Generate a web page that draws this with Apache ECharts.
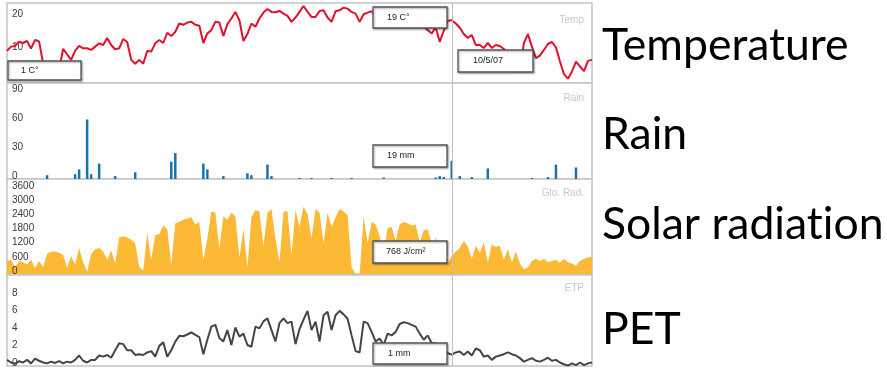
<!DOCTYPE html>
<html><head><meta charset="utf-8">
<script src="https://cdn.jsdelivr.net/npm/echarts@6/dist/echarts.min.js"></script>
<style>html,body{margin:0;padding:0;background:#fff}#c{width:887px;height:370px}</style>
</head><body><div id="c"></div><script>
const categories = [...Array(147).keys()];
const temperature = [
9.7,11,11.2,12.5,12.1,12.7,10.4,13,12.6,6,
4.5,3.5,5,4,10.3,8.7,7,9.7,11.2,10.5,
10.5,10,11,12,11.5,13.6,11.5,10.2,10.5,13.3,
12.4,7,5.8,7,5.8,9.7,9.5,12,13,12.1,
15.2,14.2,15.5,18,17.6,18.3,18.5,17.6,17.3,12.1,
15,16,18.5,18.3,14.2,17.8,19.5,21.5,19,12.7,
14.8,18,17,19.5,21.3,22.4,21.5,21.4,21.8,21,
20.3,18.5,19.8,21.5,23.3,21.5,20,20,21.8,22,
19.8,18.5,21.7,22,22.8,22.5,21.5,21,18.5,20.8,
21.3,21.7,20,17,19,20.5,19,20,21,19.5,
20,18.5,19.5,18,17,16,15,16.8,12.5,15.8,
18.8,19,18,16.7,14.8,13.6,14.5,11.5,11.5,10.6,
12.1,10.6,11.5,11.2,10.3,9,8,6,3.2,12.1,
14.8,11,7.5,8.3,10,11.8,12.4,10.8,6.5,2.7,
1.3,3.5,6.5,5,3.6,6.7,7];
const rain = [
0,0,0,0,0,0,0,0,0,0,
4,0,0,0,0,0,0,5,10,0,
62,5,0,16,0,0,0,3,0,0,
0,0,7,0,0,0,0,0,0,0,
0,18,27,0,0,0,0,0,0,16,
10,0,0,0,3,0,0,0,0,0,
6,4,0,0,0,15,3,0,0,0,
0,0,0,1,0,0,1,0,0,0,
0,1,0,0,0,0,1,0,0,0,
0,0,0,0,1.5,0,0,0,0,0,
0,0,0,0,0,0,0,1.5,3,2,
0,19,0,3,0,0,2,0,0,0,
11,0,0,0,0,0,0,0,0,0,
0,1,0,0,0,2,0,15,0,0,
0,0,12,0,0,0,0];
const radiation = [
550,600,300,550,500,400,600,250,550,300,
850,950,950,900,800,250,750,400,1100,500,
100,850,1050,1100,950,600,1000,450,1550,1600,
1550,1450,1300,300,150,1750,600,1650,1700,2050,
1900,400,2150,2200,2300,2350,2400,2100,2200,600,
1500,2650,2600,1100,2450,2300,2600,2450,700,1900,
300,2400,2700,2650,1200,2600,2750,1500,500,2650,
2650,800,2700,2000,2850,2550,1500,2750,2600,1300,
2600,2000,2400,2750,2650,2500,300,0,0,2400,
1300,2200,2100,1600,900,1950,2000,1400,2100,2200,
2150,2050,2100,1350,1850,1900,1300,1500,1100,600,
450,768,950,1100,1400,1150,650,1200,900,1350,
500,1250,1150,1200,600,1050,500,950,450,200,
280,550,650,550,650,500,550,600,480,650,
500,450,350,550,650,700,720];
const pet = [
0.7,0.4,0.25,0.55,0.4,0.7,0.3,0.85,0.6,0.4,
0.3,0.5,0.35,0.55,0.3,0.5,0.4,0.7,1.2,0.6,
0.4,0.7,0.7,1.2,1.07,1.26,0.95,1.8,2.6,2.5,
1.8,1.8,1.26,1.35,1.26,1.55,1.7,1.07,2.3,2.7,
1.07,1.8,2.78,3.45,3.4,3.6,3.85,3.55,3.3,1.35,
3.0,4.5,4.7,3.2,2.8,4.1,2.4,4.4,3.35,3.7,
2.4,2.2,4.5,4.3,5.1,5.45,4.1,2.8,4.9,5.45,
4.9,5.07,2.5,4.2,5.3,6.3,4.1,5.07,2.8,5.8,
6.2,4.1,5.8,6.3,5.9,5.4,3.5,1.7,1.55,5.07,
4.9,3.9,2.8,3.15,2.4,3.7,3.5,3.9,4.8,5.0,
4.9,4.7,4.5,3.7,3.0,3.5,2.6,2.6,2.2,1.8,
1.45,1.3,1.55,1.65,1.26,1.65,1.2,2.0,1.8,1.07,
1.2,0.7,1.07,1.2,1.35,1.55,1.35,1.2,0.9,0.5,
0.7,0.9,0.6,0.5,0.7,0.95,0.6,0.7,0.4,0.2,
0.05,0.3,0.1,0.4,0.1,0.3,0.4];
const cursorIndex = 111;
const cursorDate = '10/5/07';
const panelTags = ['Temp', 'Rain', 'Glo. Rad.', 'ETP'];
const readouts = ['19 C°', '19 mm', '768 J/cm²', '1 mm'];
const startReadout = '1 C°';
const sideLabels = ['Temperature', 'Rain', 'Solar radiat\u200Cion', 'PET'];
const axisMax = [24.2, 100, 4025, 10.4];
const axisInterval = [10, 30, 600, 2];
const axisLabelTop = [20, 90, 3600, 8];
const axisLabelBottom = [10, 0, 0, 0];

const panels = [{top:3,height:80},{top:83,height:96},{top:179,height:95},{top:275,height:91}];
const LEFT = 7, WIDTH = 585;
const chart = echarts.init(document.getElementById('c'), null, {renderer:'canvas'});

const grids = panels.map(p => ({left:LEFT, width:WIDTH, top:p.top, height:p.height, show:true, borderColor:'#c4c4c4', borderWidth:1.5, backgroundColor:'#fff'}));
const xAxes = panels.map((p,i) => ({type:'category', gridIndex:i, data:categories, boundaryGap:false, show:false}));
const yAxes = panels.map((p,i) => ({
  type:'value', gridIndex:i, min:0, max:axisMax[i], interval:axisInterval[i], z: i === 2 ? 5 : 0,
  axisLine:{show:false}, axisTick:{show:false}, splitLine:{show:false},
  axisLabel:{inside:true, margin:5, color:'#3a3a3a', fontSize:10, fontFamily:'Liberation Sans, Arial, sans-serif',
    verticalAlign:'bottom', lineHeight:6,
    formatter: v => { const k = v/axisInterval[i]; return (Math.abs(k-Math.round(k))<1e-6 && v<=axisLabelTop[i] && v>=axisLabelBottom[i]) ? String(v) : ''; }}
}));
const cursor = {silent:true, symbol:'none', label:{show:false}, lineStyle:{color:'#bdbdbd', width:1, type:'solid'}, data:[{xAxis:cursorIndex}]};
const series = [
  {type:'line', xAxisIndex:0, yAxisIndex:0, data:temperature, showSymbol:false, lineStyle:{color:'#e3102b', width:2}, itemStyle:{color:'#e3102b'}, markLine:cursor, z:3},
  {type:'bar', xAxisIndex:1, yAxisIndex:1, data:rain, barWidth:2.5, itemStyle:{color:'#1b72aa'}, markLine:cursor},
  {type:'line', xAxisIndex:2, yAxisIndex:2, data:radiation, showSymbol:false, lineStyle:{width:0}, itemStyle:{color:'#fbb935'}, areaStyle:{color:'#fbb935', opacity:1}, markLine:cursor},
  {type:'line', xAxisIndex:3, yAxisIndex:3, data:pet, showSymbol:false, lineStyle:{color:'#454545', width:2}, itemStyle:{color:'#454545'}, markLine:cursor}
];

function box(x, y, w, h, text, tx) {
  return [
    {type:'rect', z:100, shape:{x, y, width:w, height:h}, style:{fill:'#fff', stroke:'#555', lineWidth:1.3, shadowBlur:2, shadowOffsetX:1, shadowOffsetY:1, shadowColor:'rgba(0,0,0,0.35)'}},
    {type:'text', z:101, x:tx, y:y+h/2, style:{text, fill:'#222', font:'9px "Liberation Sans", Arial, sans-serif', verticalAlign:'middle', align:'left'}}
  ];
}
const tagY = [20, 98, 193, 288];
const sideY = [46, 135, 225, 330];
const graphics = [].concat(
  box(8, 61, 73, 19, startReadout, 21),
  box(373, 7, 74, 21, readouts[0], 387),
  box(458, 50, 75, 22, cursorDate, 473),
  box(373, 145, 74, 22, readouts[1], 387),
  box(373, 241, 74, 22, readouts[2], 386),
  box(373, 343, 74, 21, readouts[3], 388),
  panelTags.map((t,i) => ({type:'text', z:90, x:584, y:tagY[i], style:{text:t, fill:'#c8c8c8', font:'10px "Liberation Sans", Arial, sans-serif', align:'right', verticalAlign:'middle'}})),
  sideLabels.map((t,i) => ({type:'text', z:90, x:602, y:sideY[i], style:{text:t, fill:'#000', font:'44.5px Lato, sans-serif', align:'left', verticalAlign:'middle'}}))
);

chart.setOption({
  animation:false, backgroundColor:'#fff',
  grid:grids, xAxis:xAxes, yAxis:yAxes, series, graphic:graphics
});
</script></body></html>
